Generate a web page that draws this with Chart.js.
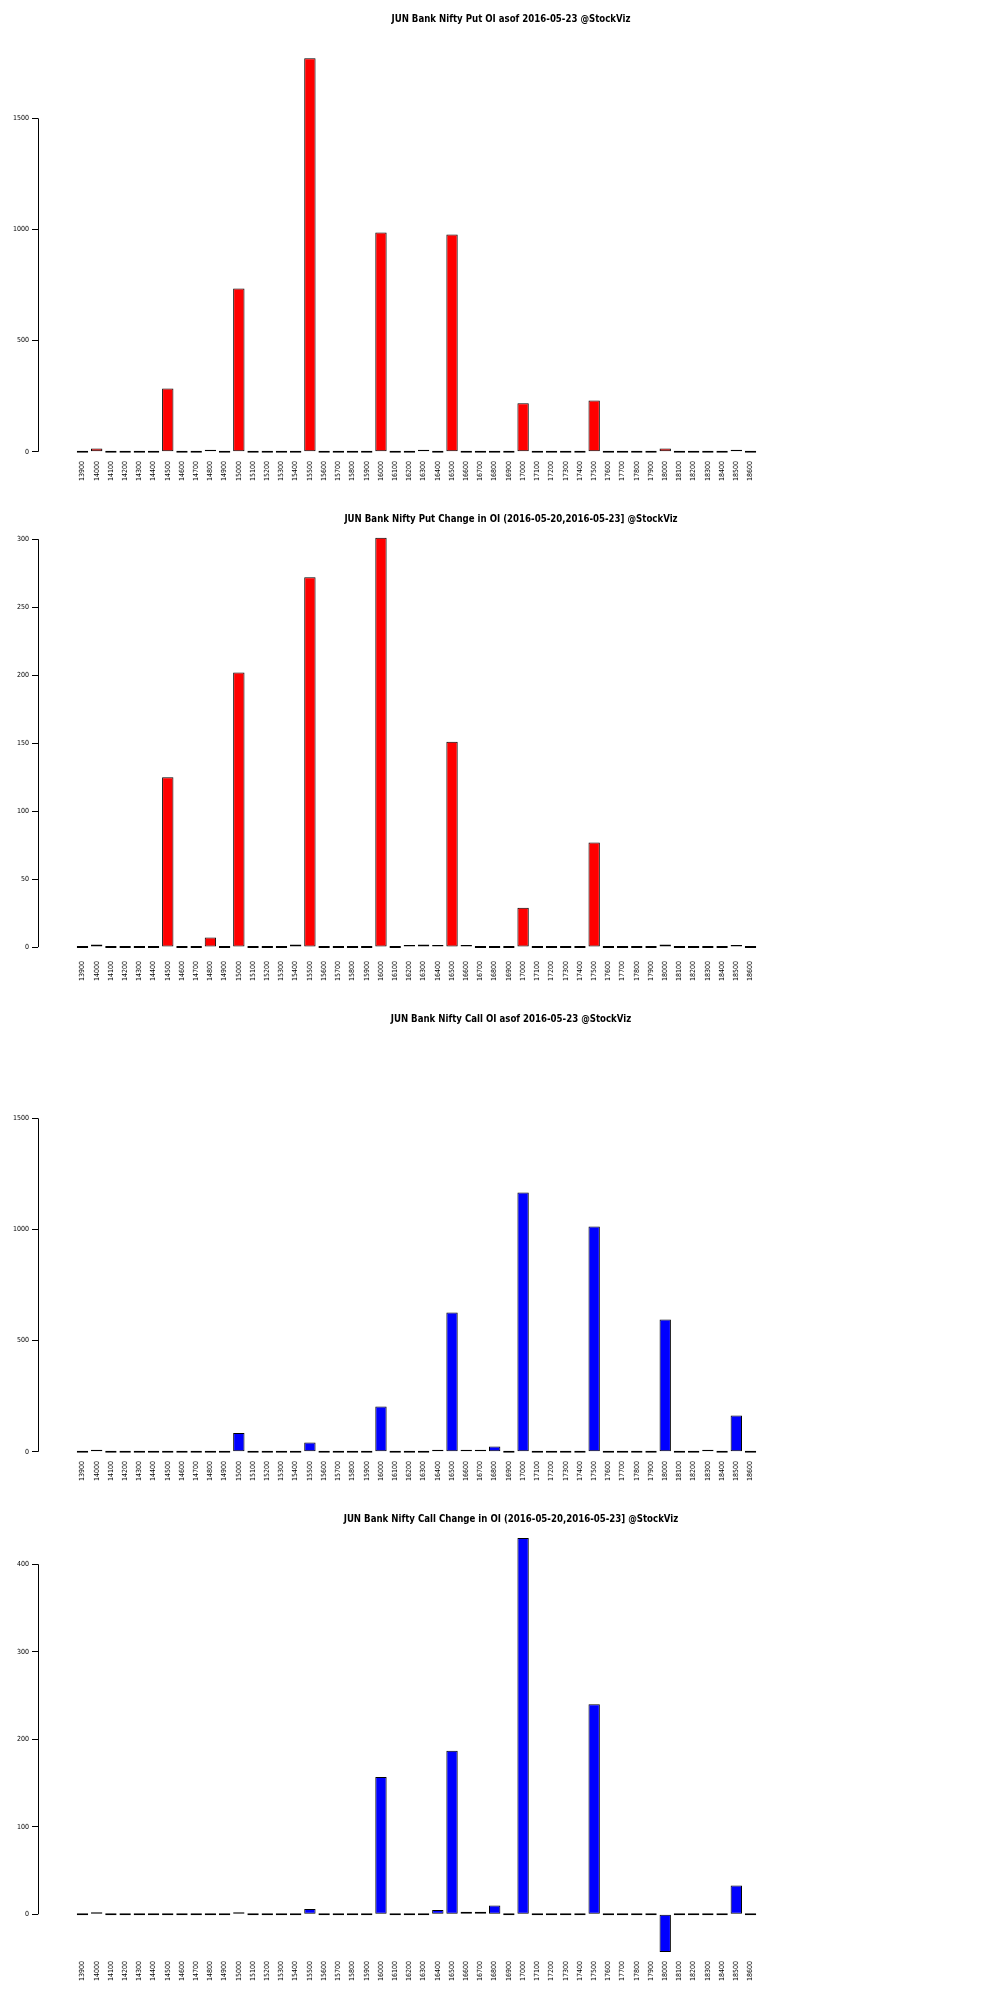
<!DOCTYPE html>
<html>
<head>
<meta charset="utf-8">
<script src="https://cdn.jsdelivr.net/npm/chart.js@4/dist/chart.umd.min.js"></script>
<style>
  body { margin: 0; background: #fff; }
  .box { position: relative; width: 1000px; height: 500px; }
</style>
</head>
<body>
<div class="box"><canvas id="putOI"></canvas></div>
<div class="box"><canvas id="putChg"></canvas></div>
<div class="box"><canvas id="callOI"></canvas></div>
<div class="box"><canvas id="callChg"></canvas></div>
<script>
// strikes on the x axis
const strikes = [
  13900, 14000, 14100, 14200, 14300, 14400, 14500, 14600, 14700, 14800,
  14900, 15000, 15100, 15200, 15300, 15400, 15500, 15600, 15700, 15800,
  15900, 16000, 16100, 16200, 16300, 16400, 16500, 16600, 16700, 16800,
  16900, 17000, 17100, 17200, 17300, 17400, 17500, 17600, 17700, 17800,
  17900, 18000, 18100, 18200, 18300, 18400, 18500, 18600
];

const putOI = [
  0, 15, 0, 0, 0, 0, 285, 0, 0, 6,
  0, 735, 0, 0, 0, 0, 1770, 0, 0, 0,
  0, 987, 0, 0, 6, 0, 978, 0, 0, 0,
  0, 218, 0, 0, 0, 0, 231, 0, 0, 0,
  0, 15, 0, 0, 0, 0, 6, 0
];
const putChange = [
  0, 2, 0, 0, 0, 0, 125, 0, 0, 7,
  0, 202, 0, 0, 0, 2, 272, 0, 0, 0,
  0, 301, 0, 1, 2, 1, 151, 1, 0, 0,
  0, 29, 0, 0, 0, 0, 77, 0, 0, 0,
  0, 2, 0, 0, 0, 0, 1, 0
];
const callOI = [
  0, 5, 0, 0, 0, 0, 0, 0, 0, 0,
  0, 84, 0, 0, 0, 0, 42, 0, 0, 0,
  0, 204, 0, 0, 0, 6, 627, 5, 5, 24,
  0, 1167, 0, 0, 0, 0, 1014, 0, 0, 0,
  0, 595, 0, 0, 5, 0, 163, 0
];
const callChange = [
  0, 2, 0, 0, 0, 0, 0, 0, 0, 0,
  0, 1, 0, 0, 0, 0, 6, 0, 0, 0,
  0, 157, 0, 0, 0, 5, 187, 3, 3, 10,
  0, 430, 0, 0, 0, 0, 240, 0, 0, 0,
  0, -43, 0, 0, 0, 0, 33, 0
];

// y tick labels
const oiTicks = [0, 500, 1000, 1500];
const putChgTicks = [0, 50, 100, 150, 200, 250, 300];
const callChgTicks = [0, 100, 200, 300, 400];

const NARROW = '"Liberation Sans Narrow", "DejaVu Sans Condensed", "Liberation Sans", sans-serif';
Chart.defaults.font.family = NARROW;
Chart.defaults.color = "#000";

// title + R style y axis line (only spans the ticks)
const rStyle = {
  id: "rStyle",
  afterDraw(chart, args, opts) {
    const ctx = chart.ctx;
    const y = chart.scales.y;
    const x0 = Math.round(chart.chartArea.left) + 0.5;
    ctx.save();
    ctx.strokeStyle = "#000";
    ctx.lineWidth = 1;
    ctx.beginPath();
    ctx.moveTo(x0, y.getPixelForValue(opts.ticks[0]));
    ctx.lineTo(x0, y.getPixelForValue(opts.ticks[opts.ticks.length - 1]));
    ctx.stroke();
    // narrow, tall title like the original
    ctx.translate(511, 19);
    ctx.scale(0.87, 1);
    ctx.fillStyle = "#000";
    ctx.font = "bold 11px " + NARROW;
    ctx.textAlign = "center";
    ctx.textBaseline = "middle";
    ctx.fillText(opts.title, 0, 0);
    ctx.restore();
  }
};

function makeChart(id, title, values, color, ticks, yMin, yMax) {
  return new Chart(document.getElementById(id), {
    type: "bar",
    data: {
      labels: strikes,
      datasets: [{
        data: values,
        backgroundColor: color,
        borderColor: "#000",
        borderWidth: 1,
        borderSkipped: false,
        minBarLength: 2,
        barPercentage: 0.8,
        categoryPercentage: 1
      }]
    },
    options: {
      responsive: true,
      maintainAspectRatio: false,
      animation: false,
      layout: { padding: { top: 31, right: 205, bottom: 0, left: 0 } },
      plugins: {
        legend: { display: false },
        tooltip: { enabled: false },
        rStyle: { title: title, ticks: ticks }
      },
      scales: {
        x: {
          type: "linear",
          offset: false,
          min: strikes[0] - 313,
          max: strikes[strikes.length - 1] + 313,
          grid: { display: false, drawTicks: false },
          border: { display: false },
          afterBuildTicks: (s) => { s.ticks = strikes.map((v) => ({ value: v })); },
          afterFit: (s) => { s.height = 42; },
          ticks: {
            autoSkip: false,
            maxRotation: 90,
            minRotation: 90,
            padding: 3,
            font: { size: 7 },
            callback: (v) => String(v)
          }
        },
        y: {
          min: yMin,
          max: yMax,
          border: { display: false },
          grid: { drawOnChartArea: false, drawTicks: true, tickLength: 6, color: "#000" },
          afterBuildTicks: (s) => { s.ticks = ticks.map((v) => ({ value: v })); },
          afterFit: (s) => { s.width = 38; },
          ticks: { padding: 3, font: { size: 7 }, callback: (v) => String(v) }
        }
      }
    },
    plugins: [rStyle]
  });
}

makeChart("putOI", "JUN Bank Nifty Put OI asof 2016-05-23 @StockViz", putOI, "#ff0000", oiTicks, -28, 1893);
makeChart("putChg", "JUN Bank Nifty Put Change in OI (2016-05-20,2016-05-23] @StockViz", putChange, "#ff0000", putChgTicks, -8, 306);
makeChart("callOI", "JUN Bank Nifty Call OI asof 2016-05-23 @StockViz", callOI, "#0000ff", oiTicks, -28, 1893);
makeChart("callChg", "JUN Bank Nifty Call Change in OI (2016-05-20,2016-05-23] @StockViz", callChange, "#0000ff", callChgTicks, -50, 438);
</script>
</body>
</html>
